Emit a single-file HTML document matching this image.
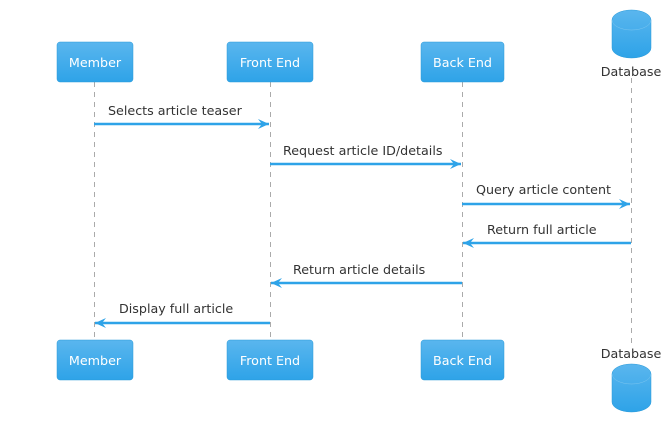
<!DOCTYPE html>
<html><head><style>body{margin:0;background:#fff}</style></head><body>
<svg width="672" height="435" xmlns="http://www.w3.org/2000/svg" font-family="DejaVu Sans, sans-serif" font-size="12.7">
<defs>
<linearGradient id="g" x1="0" y1="0" x2="0" y2="1"><stop offset="0" stop-color="#5ab6ee"/><stop offset="1" stop-color="#2ea3e8"/></linearGradient>
<marker id="a" markerWidth="12" markerHeight="10" refX="11" refY="5" orient="auto" markerUnits="userSpaceOnUse"><path d="M0,0 L11,5 L0,10 L4,5 Z" fill="#2ea3e8"/></marker>
</defs>
<g stroke="#aaa" stroke-dasharray="5,5" stroke-width="1">
<line x1="94.5" y1="82" x2="94.5" y2="340"/><line x1="270.5" y1="82" x2="270.5" y2="340"/>
<line x1="462.5" y1="82" x2="462.5" y2="340"/><line x1="631.5" y1="78" x2="631.5" y2="344"/>
</g>
<g fill="url(#g)" stroke="#2a9ad8" stroke-width="0.5">
<rect x="57" y="42" width="76" height="40" rx="3"/><rect x="227" y="42" width="86" height="40" rx="3"/><rect x="421" y="42" width="83" height="40" rx="3"/>
<rect x="57" y="340" width="76" height="40" rx="3"/><rect x="227" y="340" width="86" height="40" rx="3"/><rect x="421" y="340" width="83" height="40" rx="3"/>
<path d="M612,20 a19.5,10 0 0 1 39,0 v28 a19.5,10 0 0 1 -39,0 Z"/>
<path d="M612,20 a19.5,10 0 0 0 39,0" fill="none" stroke="#7cc6f0"/>
<path d="M612,374 a19.5,10 0 0 1 39,0 v28 a19.5,10 0 0 1 -39,0 Z"/>
<path d="M612,374 a19.5,10 0 0 0 39,0" fill="none" stroke="#7cc6f0"/>
</g>
<g fill="#fff" text-anchor="middle">
<text x="95" y="67">Member</text><text x="270" y="67">Front End</text><text x="462.5" y="67">Back End</text>
<text x="95" y="365">Member</text><text x="270" y="365">Front End</text><text x="462.5" y="365">Back End</text>
</g>
<g fill="#333" text-anchor="middle"><text x="631" y="76">Database</text><text x="631" y="358">Database</text></g>
<g stroke="#2ea3e8" stroke-width="2.5" marker-end="url(#a)">
<line x1="94" y1="124" x2="269" y2="124"/><line x1="270" y1="164" x2="461" y2="164"/>
<line x1="462" y1="204" x2="630" y2="204"/><line x1="631" y1="243" x2="463" y2="243"/>
<line x1="462" y1="283" x2="271" y2="283"/><line x1="270" y1="323" x2="95" y2="323"/>
</g>
<g fill="#333">
<text x="108" y="115">Selects article teaser</text><text x="283" y="155">Request article ID/details</text>
<text x="476" y="194">Query article content</text><text x="487" y="234">Return full article</text>
<text x="293" y="274">Return article details</text><text x="119" y="313">Display full article</text>
</g>
</svg>
</body></html>
